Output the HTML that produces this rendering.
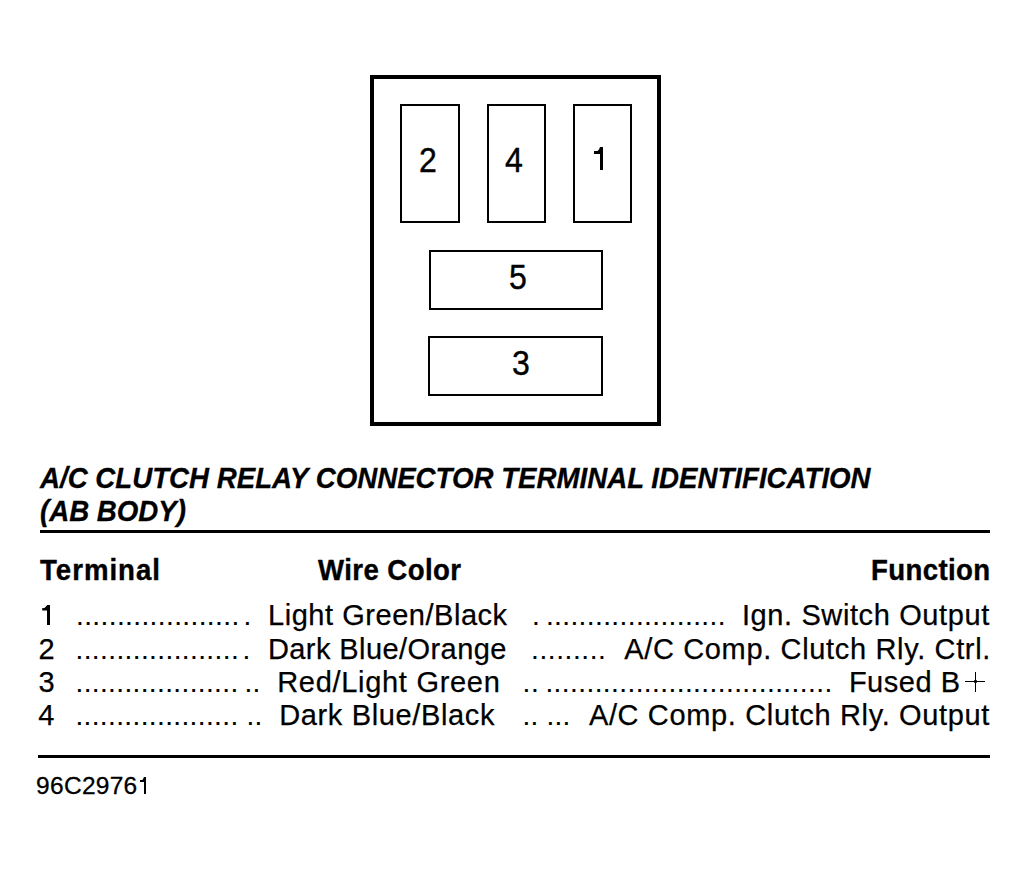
<!DOCTYPE html>
<html><head><meta charset="utf-8"><style>
html,body{margin:0;padding:0;background:#fff;width:1027px;height:870px;overflow:hidden;}
.t{position:absolute;white-space:pre;line-height:1;color:#000;}
.b{position:absolute;background:#000;}
.bx{position:absolute;box-sizing:border-box;border:2px solid #000;}
.s{position:absolute;left:0;top:0;}
</style></head><body>
<div class="bx" style="left:370px;top:75px;width:291px;height:351px;border-width:4px 4px 4px 4px;"></div>
<div class="bx" style="left:400px;top:104px;width:60px;height:119px;"></div>
<div class="bx" style="left:487px;top:104px;width:59px;height:119px;"></div>
<div class="bx" style="left:573px;top:104px;width:59px;height:119px;"></div>
<div class="bx" style="left:429px;top:250px;width:174px;height:60px;"></div>
<div class="bx" style="left:428px;top:336px;width:175px;height:60px;"></div>
<div class="b" style="left:40px;top:530px;width:950px;height:3px;"></div>
<div class="b" style="left:38px;top:755px;width:952px;height:3px;"></div>
<div class="b" style="left:975px;top:672px;width:1px;height:20px;"></div>
<div class="b" style="left:965px;top:681px;width:20px;height:1px;"></div>
<div class="b" style="left:974px;top:680px;width:3px;height:3px;border-radius:1px;"></div>
<svg class="s" width="1027" height="870" viewBox="0 0 1027 870">
<polygon points="47.2,605 50,605 50,625 47,625 47,610.5 42.3,610.5 42,608.3 44.5,608 46.4,606"/>
<polygon points="600,147 603,147 603,170 600,170 600,154 594,154 594,151 597.5,151 599,149.5"/>
<polygon points="144,777 146,777 146,794 144,794 144,782 140,782 140,780 142.5,780 143.5,778"/>
</svg>
<div class="t" style="left:40.0px;top:463.0px;font-family:'Liberation Sans', sans-serif;font-size:30px;font-weight:bold;font-style:italic;letter-spacing:0.000px;-webkit-text-stroke:0.3px #000;transform:scale(0.9223085460599334,1.0);transform-origin:0 0;">A/C CLUTCH RELAY CONNECTOR TERMINAL IDENTIFICATION</div>
<div class="t" style="left:40.0px;top:496.0px;font-family:'Liberation Sans', sans-serif;font-size:30px;font-weight:bold;font-style:italic;letter-spacing:0.000px;-webkit-text-stroke:0.3px #000;transform:scale(0.9223085460599334,1.0);transform-origin:0 0;">(AB BODY)</div>
<div class="t" style="left:40.0px;top:554.5px;font-family:'Liberation Sans', sans-serif;font-size:30px;font-weight:bold;font-style:normal;letter-spacing:1.087px;-webkit-text-stroke:0.4px #000;transform:scale(0.92,1.0);transform-origin:0 0;">Terminal</div>
<div class="t" style="left:318.4px;top:554.5px;font-family:'Liberation Sans', sans-serif;font-size:30px;font-weight:bold;font-style:normal;letter-spacing:0.459px;-webkit-text-stroke:0.4px #000;transform:scale(0.92,1.0);transform-origin:0 0;">Wire Color</div>
<div class="t" style="left:871.0px;top:554.5px;font-family:'Liberation Sans', sans-serif;font-size:30px;font-weight:bold;font-style:normal;letter-spacing:0.404px;-webkit-text-stroke:0.4px #000;transform:scale(0.92,1.0);transform-origin:0 0;">Function</div>
<div class="t" style="left:76.0px;top:602.0px;font-family:'Liberation Sans', sans-serif;font-size:28px;font-weight:normal;font-style:normal;letter-spacing:0.400px;-webkit-text-stroke:0.15px #000;">....................</div>
<div class="t" style="left:243.5px;top:602.0px;font-family:'Liberation Sans', sans-serif;font-size:28px;font-weight:normal;font-style:normal;letter-spacing:0.401px;-webkit-text-stroke:0.15px #000;">.</div>
<div class="t" style="left:268.0px;top:601.0px;font-family:'Liberation Sans', sans-serif;font-size:29px;font-weight:normal;font-style:normal;letter-spacing:0.538px;-webkit-text-stroke:0.25px #000;">Light Green/Black</div>
<div class="t" style="left:531.9px;top:602.0px;font-family:'Liberation Sans', sans-serif;font-size:28px;font-weight:normal;font-style:normal;letter-spacing:0.401px;-webkit-text-stroke:0.15px #000;">.</div>
<div class="t" style="left:545.9px;top:602.0px;font-family:'Liberation Sans', sans-serif;font-size:28px;font-weight:normal;font-style:normal;letter-spacing:0.402px;-webkit-text-stroke:0.15px #000;">......................</div>
<div class="t" style="left:741.9px;top:601.0px;font-family:'Liberation Sans', sans-serif;font-size:29px;font-weight:normal;font-style:normal;letter-spacing:0.612px;-webkit-text-stroke:0.25px #000;">Ign. Switch Output</div>
<div class="t" style="left:38.5px;top:635.0px;font-family:'Liberation Sans', sans-serif;font-size:29px;font-weight:normal;font-style:normal;letter-spacing:0.000px;-webkit-text-stroke:0.25px #000;">2</div>
<div class="t" style="left:75.5px;top:636.0px;font-family:'Liberation Sans', sans-serif;font-size:28px;font-weight:normal;font-style:normal;letter-spacing:0.400px;-webkit-text-stroke:0.15px #000;">....................</div>
<div class="t" style="left:242.5px;top:636.0px;font-family:'Liberation Sans', sans-serif;font-size:28px;font-weight:normal;font-style:normal;letter-spacing:0.401px;-webkit-text-stroke:0.15px #000;">.</div>
<div class="t" style="left:267.9px;top:635.0px;font-family:'Liberation Sans', sans-serif;font-size:29px;font-weight:normal;font-style:normal;letter-spacing:0.427px;-webkit-text-stroke:0.25px #000;">Dark Blue/Orange</div>
<div class="t" style="left:531.1px;top:636.0px;font-family:'Liberation Sans', sans-serif;font-size:28px;font-weight:normal;font-style:normal;letter-spacing:0.596px;-webkit-text-stroke:0.15px #000;">.........</div>
<div class="t" style="left:624.2px;top:635.0px;font-family:'Liberation Sans', sans-serif;font-size:29px;font-weight:normal;font-style:normal;letter-spacing:0.654px;-webkit-text-stroke:0.25px #000;">A/C Comp. Clutch Rly. Ctrl.</div>
<div class="t" style="left:38.5px;top:667.5px;font-family:'Liberation Sans', sans-serif;font-size:29px;font-weight:normal;font-style:normal;letter-spacing:0.000px;-webkit-text-stroke:0.25px #000;">3</div>
<div class="t" style="left:75.5px;top:668.5px;font-family:'Liberation Sans', sans-serif;font-size:28px;font-weight:normal;font-style:normal;letter-spacing:0.373px;-webkit-text-stroke:0.15px #000;">....................</div>
<div class="t" style="left:244.5px;top:668.5px;font-family:'Liberation Sans', sans-serif;font-size:28px;font-weight:normal;font-style:normal;letter-spacing:0.321px;-webkit-text-stroke:0.15px #000;">..</div>
<div class="t" style="left:277.2px;top:667.5px;font-family:'Liberation Sans', sans-serif;font-size:29px;font-weight:normal;font-style:normal;letter-spacing:0.700px;-webkit-text-stroke:0.25px #000;">Red/Light Green</div>
<div class="t" style="left:522.5px;top:668.5px;font-family:'Liberation Sans', sans-serif;font-size:28px;font-weight:normal;font-style:normal;letter-spacing:0.621px;-webkit-text-stroke:0.15px #000;">..</div>
<div class="t" style="left:545.4px;top:668.5px;font-family:'Liberation Sans', sans-serif;font-size:28px;font-weight:normal;font-style:normal;letter-spacing:0.427px;-webkit-text-stroke:0.15px #000;">...................................</div>
<div class="t" style="left:848.9px;top:667.5px;font-family:'Liberation Sans', sans-serif;font-size:29px;font-weight:normal;font-style:normal;letter-spacing:0.517px;-webkit-text-stroke:0.25px #000;">Fused B</div>
<div class="t" style="left:38.2px;top:701.0px;font-family:'Liberation Sans', sans-serif;font-size:29px;font-weight:normal;font-style:normal;letter-spacing:0.000px;-webkit-text-stroke:0.25px #000;">4</div>
<div class="t" style="left:75.4px;top:702.0px;font-family:'Liberation Sans', sans-serif;font-size:28px;font-weight:normal;font-style:normal;letter-spacing:0.379px;-webkit-text-stroke:0.15px #000;">....................</div>
<div class="t" style="left:246.4px;top:702.0px;font-family:'Liberation Sans', sans-serif;font-size:28px;font-weight:normal;font-style:normal;letter-spacing:0.321px;-webkit-text-stroke:0.15px #000;">..</div>
<div class="t" style="left:279.2px;top:701.0px;font-family:'Liberation Sans', sans-serif;font-size:29px;font-weight:normal;font-style:normal;letter-spacing:0.643px;-webkit-text-stroke:0.25px #000;">Dark Blue/Black</div>
<div class="t" style="left:522.5px;top:702.0px;font-family:'Liberation Sans', sans-serif;font-size:28px;font-weight:normal;font-style:normal;letter-spacing:0.221px;-webkit-text-stroke:0.15px #000;">..</div>
<div class="t" style="left:546.4px;top:702.0px;font-family:'Liberation Sans', sans-serif;font-size:28px;font-weight:normal;font-style:normal;letter-spacing:0.221px;-webkit-text-stroke:0.15px #000;">...</div>
<div class="t" style="left:588.9px;top:701.0px;font-family:'Liberation Sans', sans-serif;font-size:29px;font-weight:normal;font-style:normal;letter-spacing:0.644px;-webkit-text-stroke:0.25px #000;">A/C Comp. Clutch Rly. Output</div>
<div class="t" style="left:36.1px;top:774.0px;font-family:'Liberation Sans', sans-serif;font-size:24.5px;font-weight:normal;font-style:normal;letter-spacing:0.283px;-webkit-text-stroke:0.3px #000;">96C2976</div>
<div class="t" style="left:418.6px;top:143.0px;font-family:'Liberation Sans', sans-serif;font-size:34.5px;font-weight:normal;font-style:normal;letter-spacing:0.000px;-webkit-text-stroke:0.4px #000;transform:scale(0.93,1.0);transform-origin:0 0;">2</div>
<div class="t" style="left:504.8px;top:143.0px;font-family:'Liberation Sans', sans-serif;font-size:34.5px;font-weight:normal;font-style:normal;letter-spacing:0.000px;-webkit-text-stroke:0.4px #000;transform:scale(0.93,1.0);transform-origin:0 0;">4</div>
<div class="t" style="left:509.0px;top:260.0px;font-family:'Liberation Sans', sans-serif;font-size:34.5px;font-weight:normal;font-style:normal;letter-spacing:0.000px;-webkit-text-stroke:0.4px #000;transform:scale(0.93,1.0);transform-origin:0 0;">5</div>
<div class="t" style="left:512.0px;top:346.0px;font-family:'Liberation Sans', sans-serif;font-size:34.5px;font-weight:normal;font-style:normal;letter-spacing:0.000px;-webkit-text-stroke:0.4px #000;transform:scale(0.93,1.0);transform-origin:0 0;">3</div>
</body></html>
